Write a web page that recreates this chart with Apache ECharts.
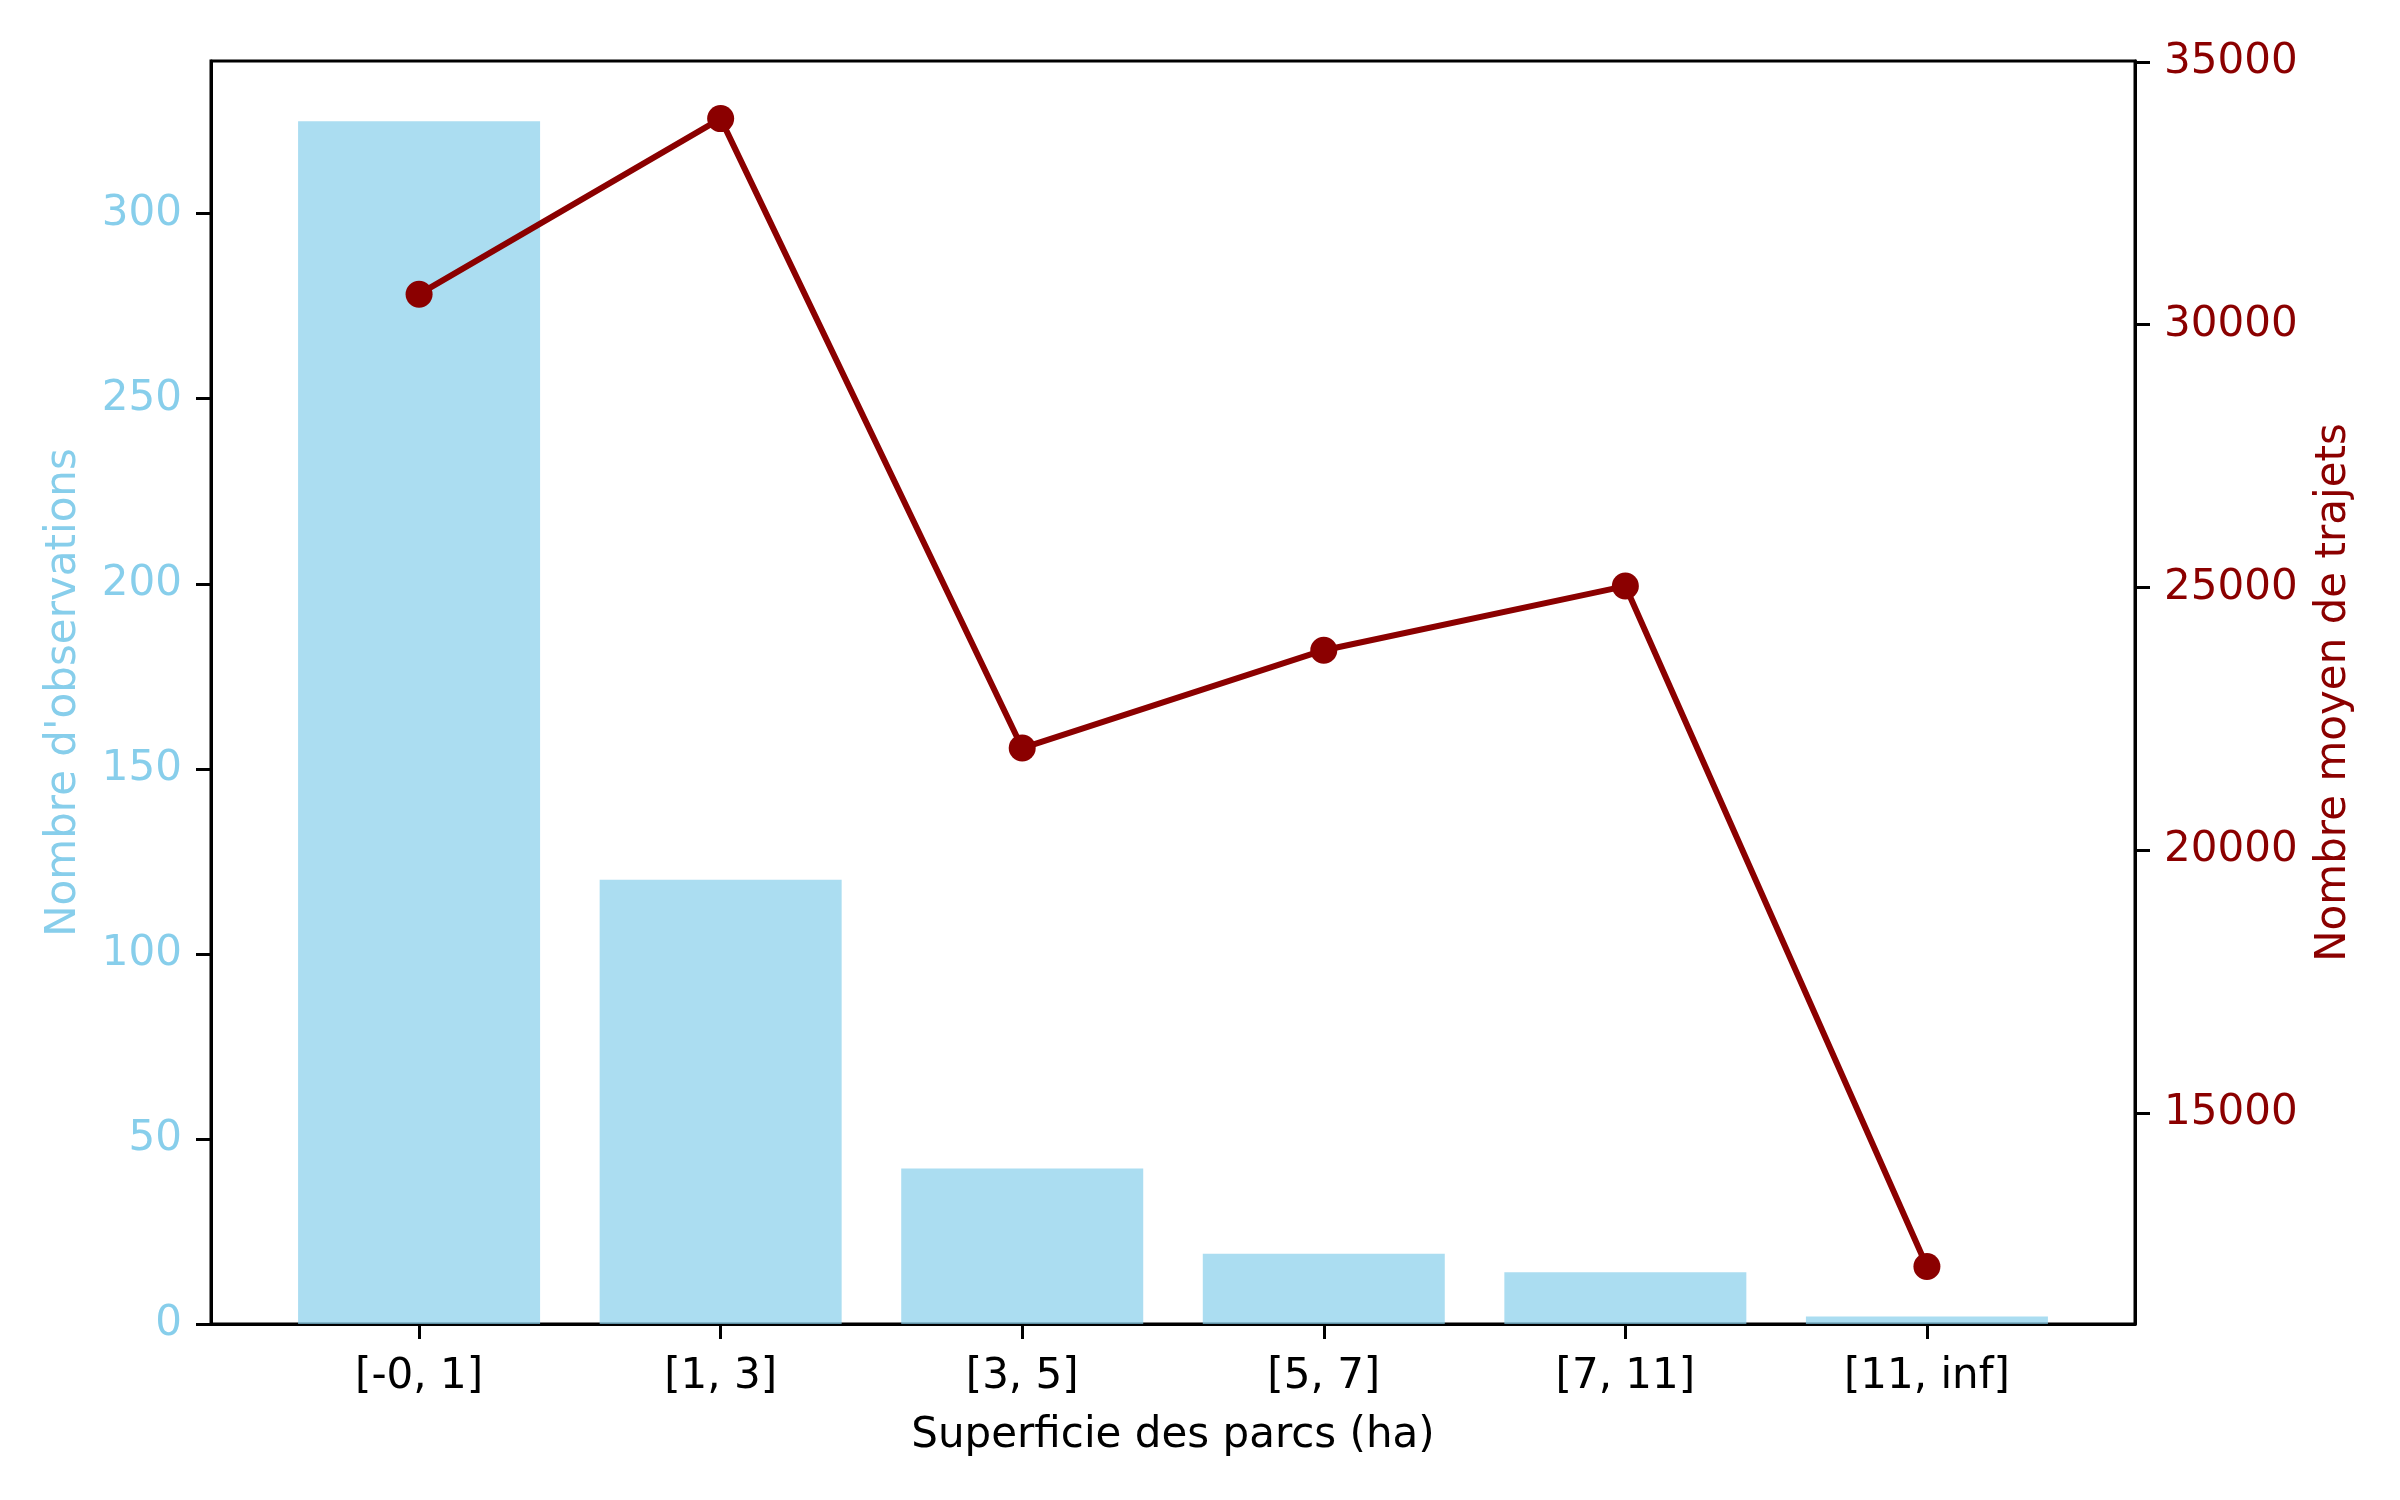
<!DOCTYPE html>
<html>
<head>
<meta charset="utf-8">
<script src="https://cdn.jsdelivr.net/npm/echarts@6/dist/echarts.min.js"></script>
<style>
html,body{margin:0;padding:0;background:#fff;}
#chart{width:2400px;height:1500px;}
</style>
</head>
<body>
<div id="chart"></div>
<script>
const categories = ['[-0, 1]', '[1, 3]', '[3, 5]', '[5, 7]', '[7, 11]', '[11, inf]'];
const observations = [325, 120, 42, 19, 14, 2];
const meanTrips = [30580, 33920, 21950, 23810, 25030, 12090];
const leftTicks = [0, 50, 100, 150, 200, 250, 300];
const rightTicks = [15000, 20000, 25000, 30000, 35000];
const xTicks = categories.map((c, i) => i);

const FONT = 'DejaVu Sans';
const SKY = '#87CEEB';
const DARKRED = '#8B0000';

const chart = echarts.init(document.getElementById('chart'), null, {renderer: 'canvas'});
chart.setOption({
  animation: false,
  backgroundColor: '#fff',
  grid: {left: 211, right: 265, top: 61, bottom: 176, show: true, borderColor: '#000', borderWidth: 3, backgroundColor: 'transparent'},
  xAxis: {
    type: 'value', min: -0.69, max: 5.69,
    name: 'Superficie des parcs (ha)', nameLocation: 'middle', nameGap: 91,
    nameTextStyle: {fontFamily: FONT, fontSize: 42, color: '#000'},
    axisLine: {show: true, onZero: false, lineStyle: {color: '#000', width: 3}},
    axisTick: {show: true, customValues: xTicks, length: 15, lineStyle: {color: '#000', width: 3}},
    axisLabel: {customValues: xTicks, margin: 32, fontFamily: FONT, fontSize: 42, color: '#000',
      formatter: v => categories[Math.round(v)]},
    splitLine: {show: false}
  },
  yAxis: [
    {
      type: 'value', min: 0, max: 341.25, position: 'left',
      name: "Nombre d'observations", nameLocation: 'middle', nameGap: 126,
      nameTextStyle: {fontFamily: FONT, fontSize: 42, color: SKY},
      axisLine: {show: true, onZero: false, lineStyle: {color: '#000', width: 3}},
      axisTick: {show: true, customValues: leftTicks, length: 15, lineStyle: {color: '#000', width: 3}},
      axisLabel: {customValues: leftTicks, margin: 29, fontFamily: FONT, fontSize: 42, color: SKY,
        padding: [6, 0, 0, 0], formatter: v => String(v)},
      splitLine: {show: false}
    },
    {
      type: 'value', min: 10997, max: 35015, position: 'right',
      name: 'Nombre moyen de trajets', nameLocation: 'middle', nameGap: 178,
      nameTextStyle: {fontFamily: FONT, fontSize: 42, color: DARKRED},
      axisLine: {show: true, onZero: false, lineStyle: {color: '#000', width: 3}},
      axisTick: {show: true, customValues: rightTicks, length: 15, lineStyle: {color: '#000', width: 3}},
      axisLabel: {customValues: rightTicks, margin: 29, fontFamily: FONT, fontSize: 42, color: DARKRED,
        padding: [6, 0, 0, 0], formatter: v => String(v)},
      splitLine: {show: false}
    }
  ],
  series: [
    {
      type: 'bar', xAxisIndex: 0, yAxisIndex: 0,
      data: observations.map((v, i) => [i, v]),
      barWidth: 242,
      itemStyle: {color: 'rgba(135,206,235,0.7)'},
      z: 2
    },
    {
      type: 'line', xAxisIndex: 0, yAxisIndex: 1,
      data: meanTrips.map((v, i) => [i, v]),
      lineStyle: {color: DARKRED, width: 6},
      itemStyle: {color: DARKRED, borderWidth: 0},
      symbol: 'circle', symbolSize: 27,
      z: 5
    }
  ]
});
</script>
</body>
</html>
